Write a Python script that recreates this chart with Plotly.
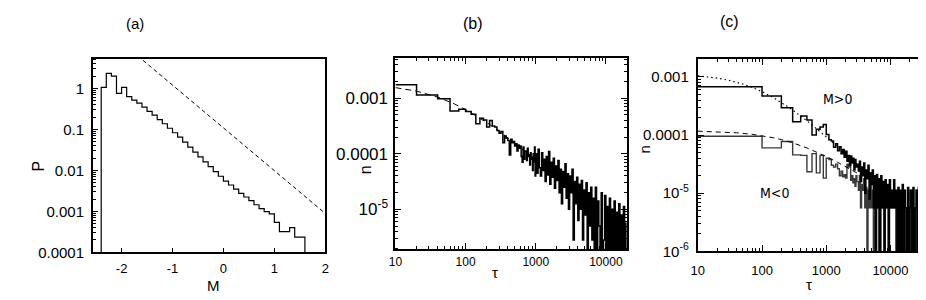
import plotly.graph_objects as go

E = None  # empty bin (zero count); cannot be shown on a log axis -> drawn below the axis

# ---------------- panel (a): magnitude histogram ----------------
M_edges = [-2.5, -2.4, -2.3, -2.2, -2.1, -2.0, -1.9, -1.8, -1.7, -1.6, -1.5, -1.4, -1.3, -1.2,
           -1.1, -1.0, -0.9, -0.8, -0.7, -0.6, -0.5, -0.4, -0.3, -0.2, -0.1, 0.0, 0.1, 0.2,
           0.3, 0.4, 0.5, 0.6, 0.7, 0.8, 0.9, 1.0, 1.1, 1.2, 1.3, 1.4, 1.5, 1.6, 1.7]
P_a = [0, 1.07, 2.34, 2.0, 0.76, 1.07, 0.63, 0.52, 0.44, 0.35, 0.275, 0.224, 0.174, 0.138,
       0.107, 0.083, 0.065, 0.049, 0.037, 0.028, 0.0214, 0.0162, 0.0123, 0.0093, 0.0072,
       0.0055, 0.0044, 0.0035, 0.00275, 0.00224, 0.00182, 0.00145, 0.00117, 0.00098,
       0.00087, 0.00054, 0.00032, 0.00032, 0.0004, 0.000234, 0.000234, 0]
line_a_M = [-2.0, 2.0]
line_a_P = [13.4, 0.00089]

# ---------------- shared fine time bins (large tau) ----------------
tau_fine = [1000, 1039, 1080, 1122, 1166, 1212, 1259, 1308, 1359, 1413, 1468, 1525, 1585, 1647,
            1711, 1778, 1848, 1920, 1995, 2073, 2154, 2239, 2326, 2417, 2512, 2610, 2712, 2818,
            2929, 3043, 3162, 3286, 3415, 3548, 3687, 3831, 3981, 4137, 4299, 4467, 4642, 4823,
            5012, 5208, 5412, 5623, 5843, 6072, 6310, 6556, 6813, 7079, 7356, 7644, 7943, 8254,
            8577, 8913, 9261, 9624, 10000, 10391, 10798, 11220, 11659, 12115, 12589, 13082,
            13594, 14125, 14678, 15252, 15849, 16469, 17113, 17783, 18478, 19201, 19953, 20734,
            21544, 22387, 23263, 24173, 25119, 26102, 27123, 28184, 29286, 30432, 31623, 32860,
            34145, 35481, 36869, 38312, 39811, 41368]

# ---------------- panel (b): waiting-time distribution (log10 n) ----------------
tau_b = [10] + [20 * i for i in range(1, 51)] + tau_fine[1:80]
logn_b = [-2.76, -2.94, -3.01, -3.23, -3.20, -3.24, -3.29, -3.46, -3.36, -3.39,
          -3.52, -3.40, -3.50, -3.52, -3.58, -3.63, -3.60, -3.80, -3.68, -3.72,
          -3.76, -4.02, -3.74, -3.80, -3.78, -3.86, -3.82, -3.95, -3.84, -3.90,
          -3.86, -4.05, -4.15, -3.88, -4.10, -3.95, -3.96, -4.12, -3.90, -4.05,
          -4.02, -4.20, -3.98, -4.10, -4.06, -4.30, -4.00, -4.15, -3.88, -4.40,
          # fine bins
          -4.00, -4.35, -3.92, -4.25, -4.40, -3.98, -4.30, -4.10, -4.50, -4.05,
          -4.38, -3.96, -4.55, -4.15, -4.42, -4.08, -4.62, -4.22, -4.48, -4.12,
          -4.70, -4.28, -4.90, -4.32, -4.60, -4.18, -4.80, -4.36, -5.00, -4.40,
          -4.70, -4.28, -5.55, -4.50, -4.90, -4.42, -5.20, -4.55, -5.00, -4.48,
          -5.55, -4.65, -5.10, -4.52, E, -4.70, -5.30, -4.60,
          -5.55, -4.80, E, -4.60, E, -4.85, -5.30, E, -4.70, E,
          -5.55, -4.75, E, -4.95, E, -4.80, E, -5.00, E, -4.85,
          E, -5.05, E, -4.90, E, -5.10, E, -4.95, E, -5.25, E]
fit_b_tau = [10, 20, 40, 70, 100, 150, 200, 300, 400, 600, 800, 1000]
fit_b_n = [1.55e-3, 1.34e-3, 1.05e-3, 7.85e-4, 6.24e-4, 4.63e-4, 3.66e-4, 2.56e-4,
           1.95e-4, 1.31e-4, 9.8e-5, 7.8e-5]

# ---------------- panel (c): M>0 and M<0 (log10 n) ----------------
tau_c = [10] + [100 * i for i in range(1, 31)] + tau_fine[30:]
logn_pos = [-3.17, -3.33, -3.53, -3.77, -3.67, -3.74, -4.00, -3.90, -3.86, -3.82,
            -3.99, -4.08, -4.10, -4.21, -4.15, -4.27, -4.20, -4.32, -4.25, -4.38,
            -4.28, -4.45, -4.35, -4.52, -4.36, -4.48, -4.40, -4.60, -4.42, -4.55,
            -4.50, -4.62, -4.45, -4.80, -4.55, -4.70, -4.48, -5.00, -4.60, -4.75,
            -4.52, -5.10, -4.65, -4.85, -4.60, -5.25, -4.70, E, -4.68, -5.25,
            -4.75, E, -4.70, -5.25, -4.80, E, -4.77, -5.25, -4.85, E,
            -4.77, -5.25, -4.95, -5.25, -4.77, -5.25, -4.95, E, -4.90, E,
            -4.95, E, -4.85, E, -4.95, -5.25, E, -4.90, E, -5.25,
            -4.95, E, -4.90, E, -5.25, -4.95, E, -4.90, E, -5.25,
            -4.95, E, -5.25, E, -4.95, -4.98, -4.98, E]
logn_neg = [-4.02, -4.22, -4.11, -4.34, -4.35, -4.63, -4.32, -4.65, -4.35, -4.74,
            -4.40, -4.42, -4.52, -4.55, -4.50, -4.58, -4.70, -4.62, -4.72, -4.68,
            -4.74, -4.50, -4.55, -4.52, -4.78, -4.70, -4.82, -4.75, -4.88, -4.70,
            -4.80, -4.95, -4.70, -5.25, -4.85, -4.95, -4.75, -5.25, -4.90, E,
            -4.95, -5.25, -4.80, -5.25, -4.95, E, -4.95, -5.25, -4.90, -5.25,
            E, -4.95, -5.25, -4.95, -5.25, E, -4.95, -5.25, -4.95, E,
            -5.25, -4.95, -5.25, -5.25, -4.95, -5.25, E, -5.25, -4.95, E,
            -5.25, E, -5.25, -4.95, E, -5.25, E, -5.25, E, -4.95,
            E, -5.25, E, -5.25, E, -4.95, E, -5.25, E, -5.25,
            E, -5.25, E, -4.95, E, -5.25, E, -5.25]
fit_pos_tau = [10, 20, 30, 50, 70, 100, 150, 200, 300, 500, 700, 1000, 1500, 2000, 3000, 5000]
fit_pos_n = [1.047e-3, 9.55e-4, 8.77e-4, 7.55e-4, 6.62e-4, 5.58e-4, 4.42e-4, 3.65e-4,
             2.70e-4, 1.76e-4, 1.30e-4, 9.3e-5, 6.3e-5, 4.73e-5, 3.14e-5, 1.86e-5]
fit_neg_tau = [10, 20, 40, 70, 100, 150, 200, 300, 500, 700, 1000, 1500, 2000, 3000]
fit_neg_n = [1.167e-4, 1.14e-4, 1.094e-4, 1.03e-4, 9.75e-5, 8.99e-5, 8.36e-5, 7.35e-5,
             6.01e-5, 5.14e-5, 4.28e-5, 3.40e-5, 2.87e-5, 2.23e-5]

# tick labels
a_xticks = [-2, -1, 0, 1, 2]
a_xtext = ["-2", "-1", "0", "1", "2"]
a_yticks = [1e-4, 1e-3, 1e-2, 0.1, 1]
a_ytext = ["0.0001", "0.001", "0.01", "0.1", "1"]
t_ticks = [10, 100, 1000, 10000]
t_text = ["10", "100", "1000", "10000"]
b_yticks = [1e-5, 1e-4, 1e-3]
b_ytext = ["10<sup>-5</sup>", "0.0001", "0.001"]
c_yticks = [1e-6, 1e-5, 1e-4, 1e-3]
c_ytext = ["10<sup>-6</sup>", "10<sup>-5</sup>", "0.0001", "0.001"]

# ---------------------------------------------------------------------
FLOOR = 1e-12
FONT = "Liberation Sans, Arial, Helvetica, sans-serif"
NARROW = "Liberation Sans Narrow, DejaVu Sans Condensed, Arial Narrow, sans-serif"
W, H = 926, 300


def from_log(vals):
    return [E if v is E else 10 ** v for v in vals]


def step_xy(edges, vals):
    assert len(edges) == len(vals) + 1, (len(edges), len(vals))
    shown = [FLOOR if (v is E or v == 0) else v for v in vals]
    return list(edges), shown + [shown[-1]]


def minor_vals(e0, e1):
    return [m * 10.0 ** e for e in range(e0, e1) for m in range(2, 10)]


fig = go.Figure()
# (a)
x, y = step_xy(M_edges, P_a)
fig.add_trace(go.Scatter(x=x, y=y, mode="lines", line=dict(color="black", width=1.2, shape="hv"),
                         xaxis="x", yaxis="y", showlegend=False))
fig.add_trace(go.Scatter(x=line_a_M, y=line_a_P, mode="lines",
                         line=dict(color="black", width=1, dash="4px,3px"),
                         xaxis="x", yaxis="y", showlegend=False))
# (b)
x, y = step_xy(tau_b, from_log(logn_b))
fig.add_trace(go.Scatter(x=x, y=y, mode="lines", line=dict(color="black", width=1.5, shape="hv"),
                         xaxis="x2", yaxis="y2", showlegend=False))
fig.add_trace(go.Scatter(x=fit_b_tau, y=fit_b_n, mode="lines",
                         line=dict(color="black", width=1, dash="6px,4px"),
                         xaxis="x2", yaxis="y2", showlegend=False))
# (c)
x, y = step_xy(tau_c, from_log(logn_neg))
fig.add_trace(go.Scatter(x=x, y=y, mode="lines", line=dict(color="#3a3a3a", width=1.4, shape="hv"),
                         xaxis="x3", yaxis="y3", showlegend=False))
x, y = step_xy(tau_c, from_log(logn_pos))
fig.add_trace(go.Scatter(x=x, y=y, mode="lines", line=dict(color="black", width=1.5, shape="hv"),
                         xaxis="x3", yaxis="y3", showlegend=False))
fig.add_trace(go.Scatter(x=fit_pos_tau, y=fit_pos_n, mode="lines",
                         line=dict(color="black", width=1.2, dash="1.5px,3px"),
                         xaxis="x3", yaxis="y3", showlegend=False))
fig.add_trace(go.Scatter(x=fit_neg_tau, y=fit_neg_n, mode="lines",
                         line=dict(color="black", width=1, dash="5px,4px"),
                         xaxis="x3", yaxis="y3", showlegend=False))


def base_axis(size, standoff):
    return dict(showline=True, linecolor="black", linewidth=2, showgrid=False, zeroline=False,
                ticks="inside", tickcolor="black", tickwidth=1,
                tickfont=dict(family=FONT, size=size, color="black"),
                ticklabelstandoff=standoff, tickmode="array")


def dom_x(l, r):
    return [l / W, r / W]


def dom_y(t, b):
    return [1 - b / H, 1 - t / H]


def minor_log(e0, e1):
    return dict(ticks="inside", ticklen=3, tickcolor="black", tickwidth=1,
                tickmode="array", tickvals=minor_vals(e0, e1), showgrid=False)


fig.update_layout(
    width=W, height=H, margin=dict(l=0, r=0, t=0, b=0),
    paper_bgcolor="white", plot_bgcolor="white",
    xaxis=dict(base_axis(13, 3), domain=dom_x(79, 314), range=[-2.56, 2], anchor="y",
               tickvals=a_xticks, ticktext=a_xtext, ticklen=4, mirror=True),
    yaxis=dict(base_axis(15, 4), domain=dom_y(52, 251), type="log", range=[-4, 0.73], anchor="x",
               tickvals=a_yticks, ticktext=a_ytext, ticklen=5, mirror=True,
               minor=minor_log(-5, 1)),
    xaxis2=dict(base_axis(12, 0), domain=dom_x(385, 619), type="log", range=[1, 4.296], anchor="y2",
                tickvals=t_ticks, ticktext=t_text, ticklen=6, mirror="allticks",
                minor=minor_log(1, 5)),
    yaxis2=dict(base_axis(17, 2), domain=dom_y(51, 248), type="log", range=[-5.72, -2.27], anchor="x2",
                tickvals=b_yticks, ticktext=b_ytext, ticklen=6, mirror="allticks",
                minor=minor_log(-6, -2)),
    xaxis3=dict(base_axis(13, 6), domain=dom_x(691, 925), type="log", range=[1, 4.6], anchor="y3",
                tickvals=t_ticks, ticktext=t_text, ticklen=6, mirror="allticks",
                minor=minor_log(1, 5)),
    yaxis3=dict(base_axis(15, 4), domain=dom_y(52.3, 250), type="log", range=[-6, -2.69], anchor="x3",
                tickvals=c_yticks, ticktext=c_ytext, ticklen=6, mirror="allticks",
                minor=minor_log(-6, -2)),
)


def label(text, px, py, size, angle=0, family=FONT):
    fig.add_annotation(text=text, x=px / W, y=1 - py / H, xref="paper", yref="paper",
                       xanchor="center", yanchor="middle", showarrow=False, textangle=angle,
                       font=dict(family=family, size=size, color="black"))


label("(a)", 121, 16, 15)
label("(b)", 463, 16, 16)
label("(c)", 723, 14, 16)
label("P", 24, 162, 16, angle=-90)
label("M", 201, 285, 15)
label("n", 355, 166, 16, angle=-90)
label("τ", 486, 272, 15)
label("n", 637, 145, 15, angle=-90)
label("τ", 804, 284, 15)
label("M>0", 832, 93, 14, family=NARROW)
label("M<0", 769, 190, 14, family=NARROW)

fig.write_html("out.html")
